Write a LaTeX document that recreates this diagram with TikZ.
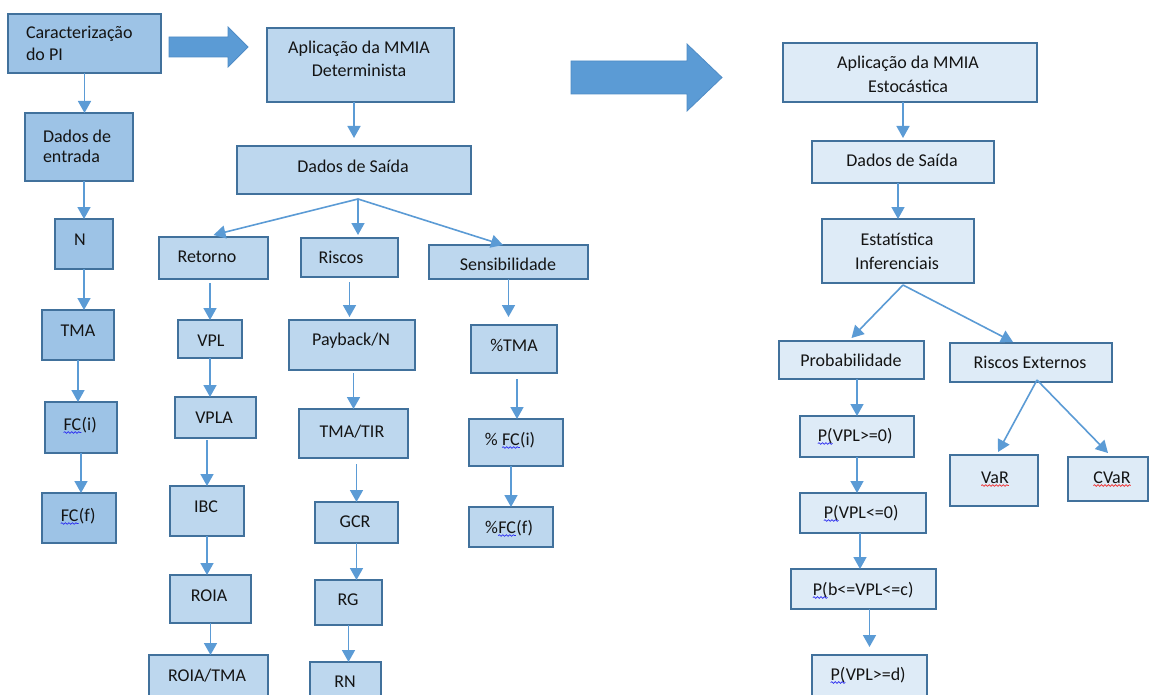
\documentclass[tikz,border=0pt]{standalone}
\usepackage{fontspec}
\setmainfont{Carlito}
\usetikzlibrary{arrows.meta,decorations.pathmorphing}
\definecolor{fillA}{HTML}{9DC3E6}
\definecolor{fillB}{HTML}{BDD7EE}
\definecolor{fillC}{HTML}{DEEBF7}
\definecolor{bord}{HTML}{41719C}
\definecolor{arrc}{HTML}{5B9BD5}
\definecolor{arrd}{HTML}{4F8CC6}
\definecolor{txtc}{HTML}{141414}
\definecolor{sb}{HTML}{2B2BF0}
\definecolor{sr}{HTML}{F02B2B}
\newcommand\fs{\fontsize{18pt}{22pt}\selectfont}
\newcommand\mybox[6]{\node[#1,minimum width={(#5)-(#3)},minimum height={(#6)-(#4)}] (#2) at ({((#3)+(#5))/2},{((#4)+(#6))/2}) {};}
\newcommand\wv[2]{\tikz[baseline=(wvn.base)]{\node[inner sep=0pt,outer sep=0pt,anchor=base] (wvn) {#2};\draw[draw=#1,line width=0.7pt,decorate,decoration={snake,amplitude=0.8pt,segment length=3.5pt}] ([yshift=-2.5pt]wvn.base west) -- ([yshift=-2.5pt]wvn.base east);}}
\tikzset{
  box/.style={draw=bord,line width=1.3pt,inner sep=0pt,outer sep=0pt},
  lb/.style={box,fill=fillA},
  mb/.style={box,fill=fillB},
  rb/.style={box,fill=fillC},
  txt/.style={inner sep=0pt,outer sep=0pt,anchor=base,text=txtc,font=\fs},
  txl/.style={txt,anchor=base west},
  arr/.style={draw=arrc,line width=1.6pt,-{Triangle[width=13pt,length=12pt]}},
  blk/.style={fill=arrc,draw=arrd,line width=0.8pt}
}
\begin{document}
\begin{tikzpicture}[x=1pt,y=-1pt]
\useasboundingbox (0,0) rectangle (1150,695);
\clip (0,0) rectangle (1150,695);
\fill[white] (0,0) rectangle (1150,695);

% block arrows
\draw[blk] (169,37) -- (228,37) -- (228,27) -- (248,47) -- (228,67) -- (228,57) -- (169,57) -- cycle;
\draw[blk] (571,61) -- (687,61) -- (687,44) -- (722,77.5) -- (687,111) -- (687,94) -- (571,94) -- cycle;

% left column
\mybox{lb}{car}{8}{14}{161}{73}
\node[txl] (car-t1) at (26,39) {Caracterização};
\node[txl] (car-t2) at (26,61) {do PI};
\mybox{lb}{din}{25}{113}{133}{181}
\node[txl] (din-t1) at (43,143) {Dados de};
\node[txl] (din-t2) at (43,163) {entrada};
\mybox{lb}{n}{55}{219}{113}{269}
\node[txt] (n-t) at (80,245) {N};
\mybox{lb}{tma}{42}{310}{114}{360}
\node[txt] (tma-t) at (78,336) {TMA};
\mybox{lb}{fci}{45}{402}{117}{453}
\node[txt] (fci-t) at (80,430) {\wv{sb}{FC}(i)};
\mybox{lb}{fcf}{42}{493}{116}{543}
\node[txt] (fcf-t) at (78,521) {\wv{sb}{FC}(f)};

% middle column
\mybox{mb}{det}{267}{28}{454}{102}
\node[txt] (det-t1) at (359,54) {Aplicação da MMIA};
\node[txt] (det-t2) at (359,77) {Determinista};
\mybox{mb}{dsd}{237}{146}{471}{194}
\node[txt] (dsd-t) at (353,172) {Dados de Saída};
\mybox{mb}{ret}{159}{237}{268}{279}
\node[txt] (ret-t) at (207,262) {Retorno};
\mybox{mb}{ris}{301}{238}{398}{277}
\node[txt] (ris-t) at (341,263) {Riscos};
\mybox{mb}{sen}{429}{245}{588}{279}
\node[txt] (sen-t) at (508,270) {Sensibilidade};
\mybox{mb}{vpl}{178}{320}{242}{358}
\node[txt] (vpl-t) at (211,346) {VPL};
\mybox{mb}{vpla}{175}{397}{256}{438}
\node[txt] (vpla-t) at (214,423) {VPLA};
\mybox{mb}{ibc}{170}{486}{244}{536}
\node[txt] (ibc-t) at (206,512) {IBC};
\mybox{mb}{roia}{170}{575}{251}{623}
\node[txt] (roia-t) at (209,601) {ROIA};
\mybox{mb}{roiat}{149}{655}{268}{710}
\node[txt] (roiat-t) at (207,681) {ROIA/TMA};
\mybox{mb}{pay}{289}{320}{415}{370}
\node[txt] (pay-t) at (351,345) {Payback/N};
\mybox{mb}{tir}{299}{409}{408}{458}
\node[txt] (tir-t) at (352,437) {TMA/TIR};
\mybox{mb}{gcr}{315}{502}{398}{543}
\node[txt] (gcr-t) at (355,527) {GCR};
\mybox{mb}{rg}{315}{580}{382}{625}
\node[txt] (rg-t) at (348,605) {RG};
\mybox{mb}{rn}{310}{662}{381}{710}
\node[txt] (rn-t) at (345,687) {RN};
\mybox{mb}{ptma}{471}{325}{557}{373}
\node[txt] (ptma-t) at (514,351) {\%TMA};
\mybox{mb}{pfci}{469}{419}{563}{466}
\node[txt] (pfci-t) at (510,445) {\% \wv{sb}{FC}(i)};
\mybox{mb}{pfcf}{469}{507}{553}{547}
\node[txt] (pfcf-t) at (509,533) {\%\wv{sb}{FC}(f)};

% right column
\mybox{rb}{est}{783}{43}{1037}{102}
\node[txt] (est-t1) at (908,69) {Aplicação da MMIA};
\node[txt] (est-t2) at (908,93) {Estocástica};
\mybox{rb}{dsr}{812}{141}{994}{183}
\node[txt] (dsr-t) at (902,167) {Dados de Saída};
\mybox{rb}{inf}{822}{219}{974}{283}
\node[txt] (inf-t1) at (897,245) {Estatística};
\node[txt] (inf-t2) at (897,269) {Inferenciais};
\mybox{rb}{prob}{779}{341}{924}{379}
\node[txt] (prob-t) at (851,366) {Probabilidade};
\mybox{rb}{rext}{950}{343}{1112}{382}
\node[txt] (rext-t) at (1030,368) {Riscos Externos};
\mybox{rb}{p1}{800}{416}{914}{457}
\node[txt] (p1-t) at (855,441) {\wv{sb}{P(}VPL>=0)};
\mybox{rb}{p2}{800}{493}{926}{533}
\node[txt] (p2-t) at (861,518) {\wv{sb}{P(}VPL<=0)};
\mybox{rb}{p3}{791}{569}{936}{609}
\node[txt] (p3-t) at (863,595) {\wv{sb}{P(}b<=VPL<=c)};
\mybox{rb}{p4}{812}{655}{927}{710}
\node[txt] (p4-t) at (868,680) {\wv{sb}{P(}VPL>=d)};
\mybox{rb}{var}{950}{455}{1038}{506}
\node[txt] (var-t) at (995,483) {\wv{sr}{VaR}};
\mybox{rb}{cvar}{1068}{457}{1148}{501}
\node[txt] (cvar-t) at (1112,483) {\wv{sr}{CVaR}};

% vertical connectors, left
\draw[arr] (car.south) -- (car.south |- din.north);
\draw[arr] (din.south -| n.north) -- (n.north);
\draw[arr] (n.south) -- (n.south |- tma.north);
\draw[arr] (tma.south) -- (tma.south |- fci.north);
\draw[arr] (fci.south) -- (fci.south |- fcf.north);

% middle
\draw[arr,shorten >=8pt] (det.south -| dsd.north) -- (dsd.north);
\coordinate (dsdb) at ([xshift=4pt,yshift=-5pt]dsd.south);
\draw[arr] (dsdb) -- ([yshift=2pt]ret.north);
\draw[arr,shorten >=3pt] (dsdb) -- (dsdb |- ris.north);
\draw[arr] (dsdb) -- ([xshift=-5.5pt]sen.north);
\draw[arr,shorten <=4pt] (ret.south -| vpl.north) -- (vpl.north);
\draw[arr] (vpl.south) -- (vpl.south |- vpla.north);
\draw[arr,shorten <=2pt] (vpla.south -| ibc.north) -- (ibc.north);
\draw[arr] (ibc.south) -- (ibc.south |- roia.north);
\draw[arr] (roia.south) -- (roia.south |- roiat.north);
\draw[arr,shorten <=5pt,shorten >=3pt] (ris.south) -- (ris.south |- pay.north);
\draw[arr,shorten <=3pt] (pay.south -| tir.north) -- (tir.north);
\draw[arr,shorten <=6pt] (tir.south -| gcr.north) -- (gcr.north);
\draw[arr] (gcr.south) -- (gcr.south |- rg.north);
\draw[arr] (rg.south) -- (rg.south |- rn.north);
\draw[arr,shorten >=8pt] (sen.south) -- (sen.south |- ptma.north);
\draw[arr,shorten <=6pt] ([xshift=3pt]ptma.south) -- ([xshift=3pt]ptma.south |- pfci.north);
\draw[arr] (pfci.south -| pfcf.north) -- (pfcf.north);

% right
\draw[arr,shorten >=3pt] (est.south -| dsr.north) -- (dsr.north);
\draw[arr] (dsr.south -| inf.north) -- (inf.north);
\coordinate (infb) at ([xshift=5pt,yshift=-2pt]inf.south);
\draw[arr] (infb) -- ([yshift=3pt]prob.north);
\draw[arr] (infb) -- ([xshift=-18pt,yshift=1pt]rext.north);
\draw[arr] (prob.south -| p1.north) -- (p1.north);
\draw[arr] (p1.south) -- (p1.south |- p2.north);
\draw[arr] ([xshift=-3pt]p2.south) -- ([xshift=-3pt]p2.south |- p3.north);
\draw[arr,shorten >=8pt] (p3.south -| p4.north) -- (p4.north);
\coordinate (rextb) at ([xshift=6pt,yshift=2pt]rext.south);
\draw[arr] (rextb) -- ([xshift=4pt,yshift=3pt]var.north);
\draw[arr] (rextb) -- ([yshift=4pt]cvar.north);
\end{tikzpicture}
\end{document}
